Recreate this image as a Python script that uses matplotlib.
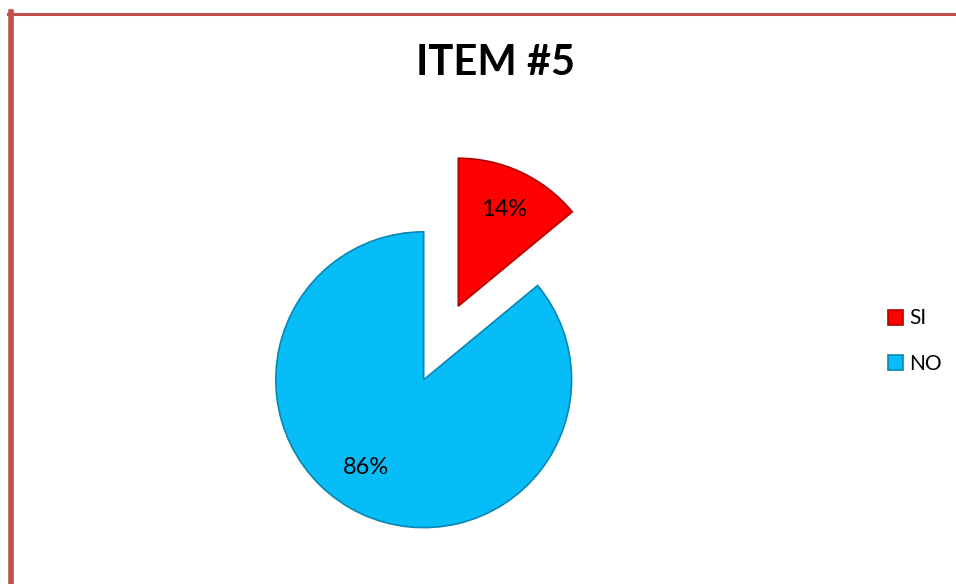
import matplotlib
matplotlib.use('Agg')
import matplotlib.pyplot as plt
from matplotlib.lines import Line2D

plt.rcParams['font.family'] = ['Lato', 'DejaVu Sans']

# data
labels = ['SI', 'NO']
values = [14, 86]
colors = ['#FF0000', '#06BDF8']
edges = ['#B00000', '#0A86B3']
explode = [0.53, 0.02]
title = 'ITEM #5'

fig = plt.figure(figsize=(9.56, 5.84), dpi=100)
fig.patch.set_facecolor('white')

ax = fig.add_axes([246/956, 28/584, 420/956, 420/584])
wedges, texts, autotexts = ax.pie(values, colors=colors, explode=explode,
                                  startangle=90, counterclock=False,
                                  autopct='%1.0f%%', pctdistance=0.72,
                                  textprops={'fontsize': 17, 'color': 'black'},
                                  wedgeprops={'linewidth': 1.2})
for w, ec in zip(wedges, edges):
    w.set_edgecolor(ec)
# Excel puts the big slice's label further out toward the edge
autotexts[1].set_position((-0.40, -0.61))
ax.set_xlim(-1.21, 1.63)
ax.set_ylim(-1.21, 1.63)
ax.axis('off')

fig.text(496/956, 1 - 63/584, title, ha='center', va='center',
         fontsize=30, fontweight='bold')

fig.legend(wedges, labels, loc='center left',
           bbox_to_anchor=(888/956, 1 - 341/584), frameon=False,
           fontsize=15, borderpad=0, borderaxespad=0,
           handlelength=0.7, handleheight=0.7, handletextpad=0.3,
           labelspacing=1.2)

# chart border (top and left only visible)
bc = '#C0504D'
fig.add_artist(Line2D([8/956, 1], [1 - 13.5/584, 1 - 13.5/584],
                      transform=fig.transFigure, color=bc, linewidth=2.2))
fig.add_artist(Line2D([11/956, 11/956], [0, 1 - 12/584],
                      transform=fig.transFigure, color=bc, linewidth=4))

plt.savefig('out.png', dpi=100)
plt.close()
